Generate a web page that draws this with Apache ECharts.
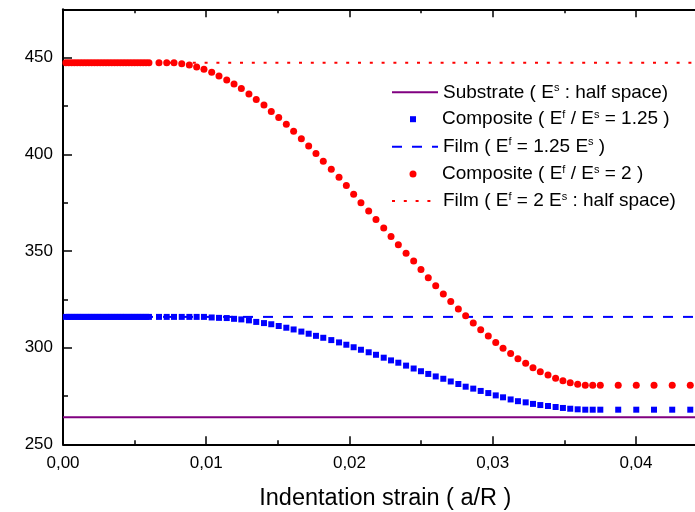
<!DOCTYPE html>
<html>
<head>
<meta charset="utf-8">
<script src="https://cdn.jsdelivr.net/npm/echarts@6/dist/echarts.min.js"></script>
<style>
html,body{margin:0;padding:0;background:#fff;overflow:hidden;width:695px;height:512px;}
#chart{width:720px;height:512px;}
</style>
</head>
<body>
<div id="chart"></div>
<script>
// ---- data ----
const strain = [
  0.0002,0.0004,0.0006,0.0008,0.0010,0.0012,0.0014,0.0016,0.0018,0.0020,
  0.0022,0.0024,0.0026,0.0028,0.0030,0.0032,0.0034,0.0036,0.0038,0.0040,
  0.0042,0.0044,0.0046,0.0048,0.0050,0.0052,0.0054,0.0056,0.0058,0.0060,
  0.00670,0.00724,0.00775,0.00829,0.00882,0.00933,0.00984,0.01038,0.01089,0.01143,
  0.01194,0.01245,0.01298,0.01349,0.01403,0.01454,0.01506,0.01559,0.01610,0.01664,
  0.01715,0.01766,0.01817,0.01873,0.01927,0.01978,0.02029,0.02080,0.02134,0.02185,
  0.02239,0.02290,0.02341,0.02395,0.02448,0.02499,0.02550,0.02602,0.02655,0.02707,
  0.02760,0.02811,0.02864,0.02916,0.02969,0.03021,0.03072,0.03125,0.03176,0.03230,
  0.03281,0.03332,0.03386,0.03439,0.03490,0.03541,0.03593,0.03646,0.03698,0.03751,
  0.03876,0.04002,0.04126,0.04253,0.04379
];
const composite125 = [
  315.9,315.9,315.9,315.9,315.9,315.9,315.9,315.9,315.9,315.9,
  315.9,315.9,315.9,315.9,315.9,315.9,315.9,315.9,315.9,315.9,
  315.9,315.9,315.9,315.9,315.9,315.9,315.9,315.9,315.9,315.9,
  315.9,315.9,315.9,315.9,315.9,315.9,315.9,315.6,315.4,315.3,
  314.9,314.6,314.1,313.3,312.7,312.1,311.2,310.3,309.4,308.3,
  307.2,306.1,305.1,303.9,302.7,301.5,300.2,298.9,297.6,296.3,
  294.8,293.4,292.2,290.7,289.2,287.8,286.4,285.1,283.9,282.5,
  281.2,279.8,278.8,277.6,276.5,275.3,274.3,273.2,272.3,271.7,
  270.9,270.3,269.8,269.3,268.8,268.4,268.1,267.9,267.9,267.9,
  267.9,267.9,267.9,267.9,267.9
];
const composite2 = [
  447.4,447.4,447.4,447.4,447.4,447.4,447.4,447.4,447.4,447.4,
  447.4,447.4,447.4,447.4,447.4,447.4,447.4,447.4,447.4,447.4,
  447.4,447.4,447.4,447.4,447.4,447.4,447.4,447.4,447.4,447.4,
  447.4,447.4,447.4,446.9,446.2,445.2,444.0,442.4,440.5,438.4,
  436.3,434.0,431.2,428.4,425.5,422.2,419.0,415.5,411.9,408.1,
  404.3,400.4,396.4,392.3,388.1,383.9,379.4,375.0,370.7,366.3,
  361.9,357.5,353.2,348.8,344.8,340.4,336.1,332.0,327.8,323.9,
  320.0,316.5,312.8,309.2,306.0,302.7,299.7,297.0,294.2,291.9,
  289.6,287.5,285.9,284.1,282.9,281.8,281.1,280.6,280.5,280.5,
  280.5,280.5,280.5,280.5,280.5
];
const lineX = [0, 0.045];
const substrateLevel = 264.0;
const film125Level = 315.9;
const film2Level = 447.4;
const xTicks = [0, 0.01, 0.02, 0.03, 0.04];
const yTicks = [250, 300, 350, 400, 450];
const yMinorTicks = [275, 325, 375, 425];

const names = {
  Substrate: 'Substrate ( E{sup|s} : half space)',
  Composite125: 'Composite ( E{sup|f} / E{sup|s} = 1.25 )',
  Film125: 'Film ( E{sup|f} = 1.25 E{sup|s} )',
  Composite2: 'Composite ( E{sup|f} / E{sup|s} = 2 )',
  Film2: 'Film ( E{sup|f} = 2 E{sup|s} : half space)'
};

const FONT = "'Liberation Sans', Arial, sans-serif";
const pair = (xs, ys) => xs.map((x, i) => [x, ys[i]]);
const flat = (v) => lineX.map(x => [x, v]);

const chart = echarts.init(document.getElementById('chart'), null, {renderer: 'canvas'});

const legendCenters = [92.3, 119.2, 146.7, 174, 201];
const legendOrder = ['Substrate', 'Composite125', 'Film125', 'Composite2', 'Film2'];
const isScatter = {Composite125: true, Composite2: true};
const legends = legendOrder.map((n, i) => {
  const sc = !!isScatter[n];
  const sz = n === 'Composite2' ? 7 : 6;
  return {
    data: [n],
    left: sc ? 413 - sz / 2 : 391,
    top: legendCenters[i] - 10,
    itemWidth: sc ? sz : 46,
    itemHeight: sc ? sz : 7,
    selectedMode: false,
    padding: 0,
    itemStyle: sc ? {} : {opacity: 0},
    formatter: (name) => names[name],
    textStyle: {
      fontFamily: FONT,
      fontSize: 19,
      color: '#000',
      lineHeight: 20,
      padding: sc ? [0, 0, 0, 442 - (413 - sz / 2) - sz - 5] : 0,
      rich: {
        sup: {fontFamily: FONT, fontSize: 11, lineHeight: 11, verticalAlign: 'top', color: '#000'}
      }
    }
  };
});

const axisBlack = {lineStyle: {color: '#000', width: 2}};

chart.setOption({
  animation: false,
  backgroundColor: '#fff',
  textStyle: {fontFamily: FONT},
  grid: {left: 63, top: 9.3, width: 644.6, height: 435, containLabel: false, outerBoundsMode: 'none'},
  legend: legends,
  xAxis: [
    {
      type: 'value', min: 0, max: 0.045, interval: 0.01, position: 'bottom',
      axisLine: axisBlack,
      axisTick: {inside: true, length: 8, lineStyle: {color: '#000', width: 1.5}},
      minorTick: {show: true, splitNumber: 2, length: 4, lineStyle: {color: '#000', width: 1.5}},
      splitLine: {show: false},
      axisLabel: {
        fontSize: 17, color: '#000', margin: 10.5, fontFamily: FONT,
        customValues: xTicks,
        formatter: v => v.toFixed(2).replace('.', ',')
      },
      name: 'Indentation strain ( a/R )',
      nameLocation: 'middle',
      nameGap: 42,
      nameTextStyle: {fontSize: 23.5, color: '#000', fontFamily: FONT}
    },
    {
      type: 'value', min: 0, max: 0.045, interval: 0.01, position: 'top',
      axisLine: axisBlack,
      axisTick: {inside: true, length: 8, lineStyle: {color: '#000', width: 1.5}},
      minorTick: {show: true, splitNumber: 2, length: 4, lineStyle: {color: '#000', width: 1.5}},
      splitLine: {show: false},
      axisLabel: {show: false}
    }
  ],
  yAxis: [
    {
      type: 'value', min: 250, max: 475, interval: 25,
      axisLine: axisBlack,
      axisTick: {inside: true, length: 9, customValues: yTicks, lineStyle: {color: '#000', width: 1.5}},
      splitLine: {show: false},
      axisLabel: {fontSize: 17, color: '#000', margin: 10, fontFamily: FONT, customValues: yTicks}
    },
    {
      type: 'value', min: 250, max: 475, interval: 25, position: 'left',
      axisLine: {show: false},
      axisTick: {inside: true, length: 5, customValues: yMinorTicks, lineStyle: {color: '#000', width: 1.5}},
      splitLine: {show: false},
      axisLabel: {show: false}
    }
  ],
  series: [
    {
      name: 'Substrate', type: 'line', data: flat(substrateLevel),
      symbol: 'none', lineStyle: {color: '#800080', width: 2}, itemStyle: {color: '#800080'}, z: 2
    },
    {
      name: 'Composite125', type: 'scatter', data: pair(strain, composite125),
      symbol: 'rect', symbolSize: 6, itemStyle: {color: '#0000FF', opacity: 1}, z: 3
    },
    {
      name: 'Film125', type: 'line', data: flat(film125Level),
      symbol: 'none', lineStyle: {color: '#0000FF', width: 2, type: [10, 10]}, itemStyle: {color: '#0000FF'}, z: 3
    },
    {
      name: 'Composite2', type: 'scatter', data: pair(strain, composite2),
      symbol: 'circle', symbolSize: 7, itemStyle: {color: '#FF0000', opacity: 1}, z: 4
    },
    {
      name: 'Film2', type: 'line', data: flat(film2Level),
      symbol: 'none', lineStyle: {color: '#FF0000', width: 2, type: [3, 8.8]}, itemStyle: {color: '#FF0000'}, z: 4
    }
  ]
});
</script>
</body>
</html>
